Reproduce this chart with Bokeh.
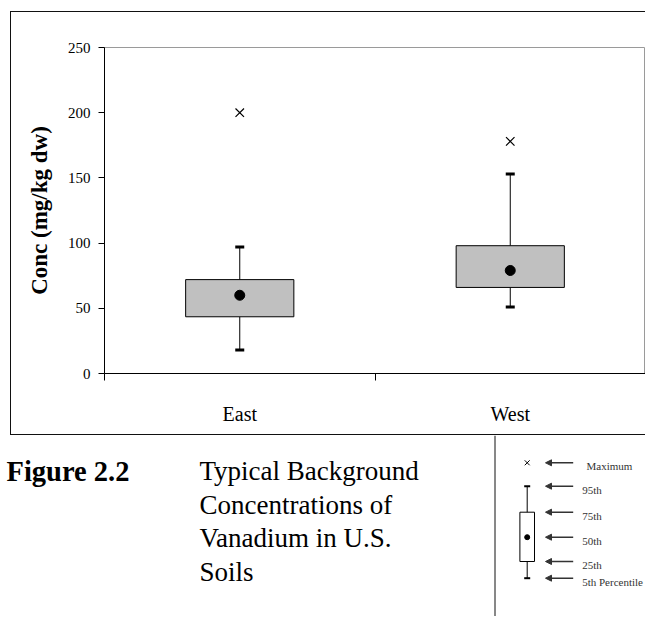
from bokeh.plotting import figure
from bokeh.layouts import column, row
from bokeh.models import Range1d, FixedTicker, Arrow, NormalHead, Spacer
from bokeh.core.properties import value
from bokeh.embed import file_html
from bokeh.resources import INLINE

# ---- data ----
categories = ["East", "West"]
p5 = [18, 51]
p25 = [43.5, 66]
p50 = [60, 79]
p75 = [72, 98]
p95 = [97, 153]
pmax = [200, 178]
y_ticks = [0, 50, 100, 150, 200, 250]
y_label = "Conc (mg/kg dw)"

caption_number = "Figure 2.2"
caption_lines = ["Typical Background", "Concentrations of", "Vanadium in U.S.", "Soils"]
key_labels = ["Maximum", "95th", "75th", "50th", "25th", "5th Percentile"]

SERIF = "Liberation Serif"


def blank(width, height, xr=(0, 1), yr=(0, 1), fill="white"):
    f = figure(width=width, height=height, output_backend="svg", toolbar_location=None,
               x_range=Range1d(*xr), y_range=Range1d(*yr), min_border=0)
    f.axis.visible = False
    f.grid.visible = False
    f.outline_line_color = None
    f.background_fill_color = fill
    f.border_fill_color = fill
    return f


# ---- chart ----
xs = [i + 0.5 for i in range(len(categories))]

p = figure(width=634, height=422, output_backend="svg", toolbar_location=None,
           x_range=Range1d(0, 2), y_range=Range1d(0, 250),
           min_border_left=93, min_border_right=0, min_border_top=35,
           min_border_bottom=61)
p.background_fill_color = "white"
p.border_fill_color = "white"
p.outline_line_color = "#9a9a9a"
p.outline_line_width = 1
p.xgrid.visible = False
p.ygrid.visible = False

p.segment(xs, p75, xs, p95, line_color="black", line_width=1)
p.segment(xs, p5, xs, p25, line_color="black", line_width=1)
p.vbar(x=xs, bottom=p25, top=p75, width=0.4, fill_color="#C0C0C0",
       line_color="black", line_width=1)
p.scatter(xs, p95, marker="dash", size=9, line_width=3, line_color="black")
p.scatter(xs, p5, marker="dash", size=9, line_width=3, line_color="black")
p.scatter(xs, p50, marker="circle", size=10, fill_color="black", line_color="black")
p.scatter(xs, pmax, marker="x", size=12, line_width=1.2, line_color="black")

xa = p.xaxis[0]
xa.ticker = FixedTicker(ticks=xs, minor_ticks=[0, 1, 2])
xa.major_label_overrides = {x: c for x, c in zip(xs, categories)}
xa.major_tick_in = 0
xa.major_tick_out = 0
xa.minor_tick_in = 0
xa.minor_tick_out = 7
xa.minor_tick_line_color = "black"
xa.axis_line_color = "black"
xa.major_label_text_font = SERIF
xa.major_label_text_font_size = "20px"
xa.major_label_text_color = "black"
xa.major_label_standoff = 22

ya = p.yaxis[0]
ya.ticker = FixedTicker(ticks=y_ticks)
ya.minor_tick_line_color = None
ya.major_tick_in = 0
ya.major_tick_out = 6
ya.major_tick_line_color = "black"
ya.axis_line_color = "black"
ya.major_label_text_font = SERIF
ya.major_label_text_font_size = "15px"
ya.major_label_text_color = "black"
ya.major_label_standoff = 8
ya.axis_label = y_label
ya.axis_label_text_font = SERIF
ya.axis_label_text_font_size = "23px"
ya.axis_label_text_font_style = "bold"
ya.axis_label_text_color = "black"
ya.axis_label_standoff = 13

# ---- outer frame lines (solid black strips) ----
hline = Spacer(width=635, height=1, styles={"background-color": "#111111"})
vline = Spacer(width=1, height=422, styles={"background-color": "#111111"})
bline = Spacer(width=635, height=1, styles={"background-color": "#111111"})

# ---- caption and key, in page pixel coordinates ----
bot = blank(645, 181, (0, 645), (616, 435))
bot.segment([494.5], [435], [494.5], [616], line_color="#111111", line_width=1)

bot.text(x=[6], y=[470.5], text=[caption_number], text_font=value(SERIF),
         text_font_size="28.5px", text_font_style="bold", text_color="black",
         text_baseline="alphabetic")
cap_y = [470.5 + 33.5 * i for i in range(len(caption_lines))]
bot.text(x=[199] * len(caption_lines), y=cap_y, text=caption_lines,
         text_font=value(SERIF), text_font_size="27px", text_color="black",
         text_baseline="alphabetic")

kx = 526.7
key_y = [462.3, 485.7, 511.7, 536.7, 561.0, 577.7]
bot.scatter([kx], [key_y[0]], marker="x", size=7, line_color="black", line_width=1)
bot.segment([kx], [key_y[1]], [kx], [key_y[5]], line_color="black", line_width=1)
bot.segment([kx - 3, kx - 3], [key_y[1], key_y[5]], [kx + 3, kx + 3], [key_y[1], key_y[5]],
            line_color="black", line_width=2)
bot.quad(left=[kx - 7.3], right=[kx + 7.3], top=[key_y[2]], bottom=[key_y[4]],
         fill_color="white", line_color="black", line_width=1)
bot.scatter([kx], [key_y[3]], marker="circle", size=5, fill_color="black", line_color="black")
for yk in key_y:
    bot.add_layout(Arrow(x_start=572.7, y_start=yk, x_end=545, y_end=yk,
                         line_color="#333333", line_width=1.5,
                         end=NormalHead(size=6, fill_color="#333333", line_color="#333333")))
lab_x = [586] + [581.7] * (len(key_labels) - 1)
bot.text(x=lab_x, y=[yk + 3.5 for yk in key_y], text=key_labels,
         text_font=value(SERIF), text_font_size="11px", text_color="#333333",
         text_baseline="alphabetic")

layout = column(
    Spacer(width=645, height=11),
    row(Spacer(width=10, height=1), hline, spacing=0),
    row(Spacer(width=10, height=422), vline, p, spacing=0),
    row(Spacer(width=10, height=1), bline, spacing=0),
    bot,
    spacing=0,
)

open("out.html", "w").write(file_html(layout, INLINE))
